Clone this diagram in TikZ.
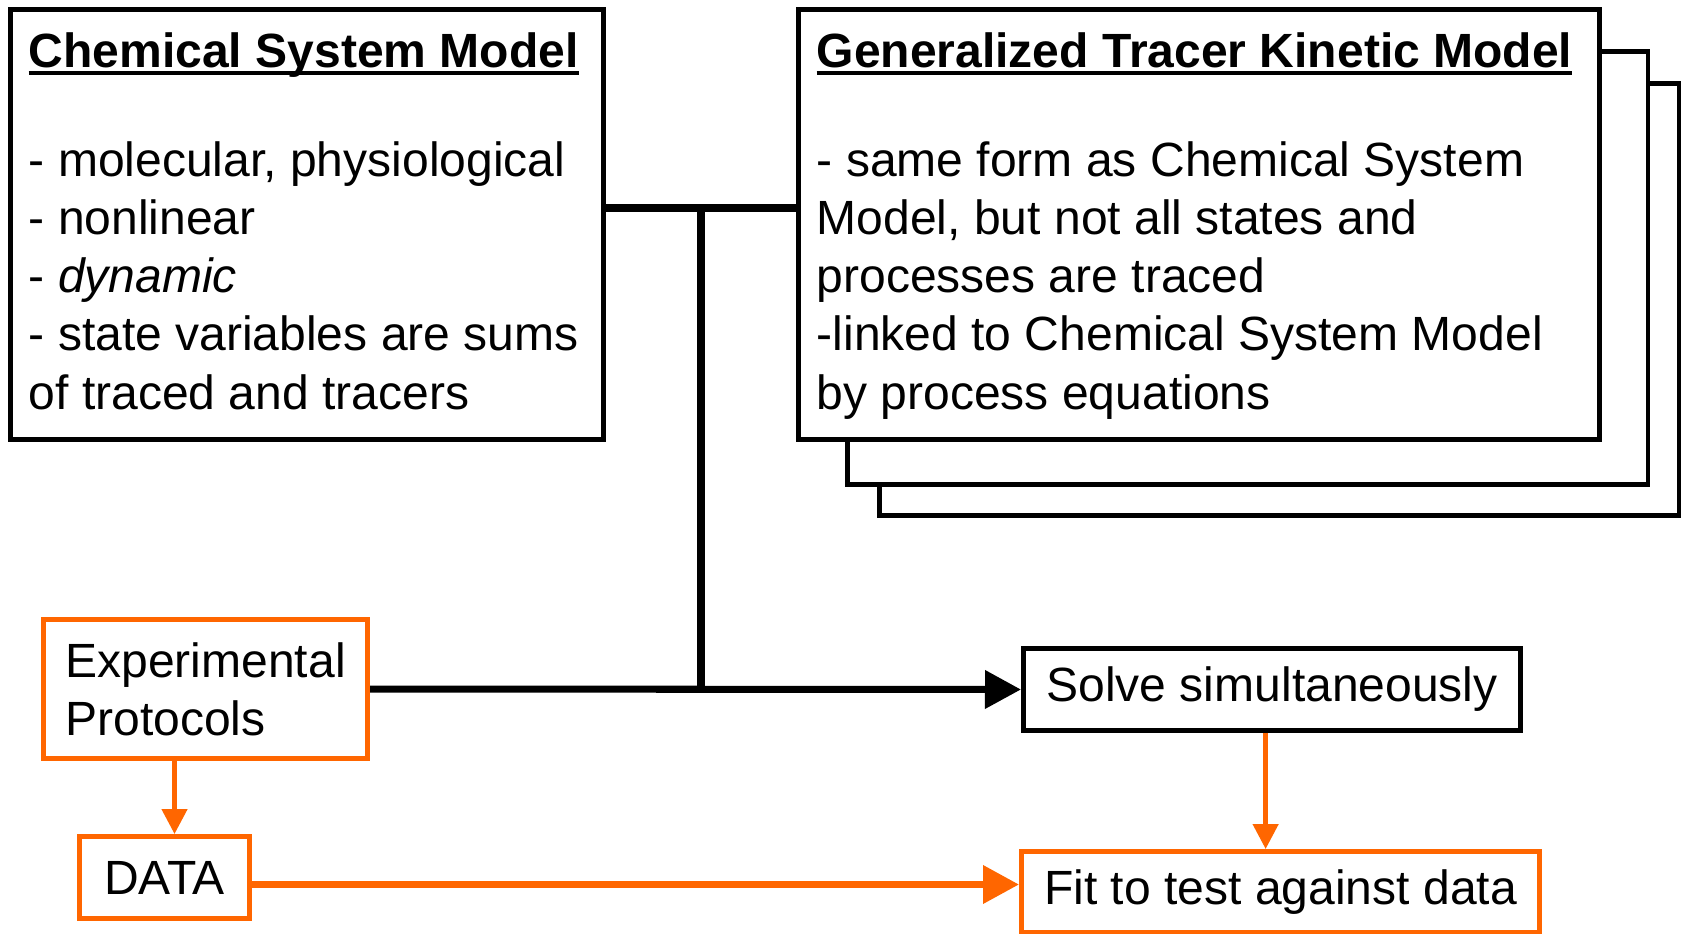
\documentclass[tikz,border=0pt]{standalone}
\usepackage{fontspec}
\setmainfont{Liberation Sans}
\usetikzlibrary{arrows.meta}

\definecolor{protorange}{RGB}{255,102,0}

% bold heading with a heavy underline set just under the baseline
\newcommand{\uhead}[1]{\setbox0=\hbox{\bfseries #1}\rlap{\rule[-0.165em]{\wd0}{0.085em}}\box0}

\tikzset{
  box/.style={draw, line width=1.4pt, fill=white, inner sep=0pt, anchor=north west,
    font=\fontsize{13.66pt}{16.5pt}\selectfont},
  obox/.style={box, draw=protorange},
  txt/.style={inner sep=0pt, anchor=base west, font=\fontsize{13.66pt}{16.5pt}\selectfont},
  body/.style={txt, align=left},
  link/.style={line width=2pt},
  feed/.style={draw=protorange, line width=1.3pt, -{Triangle[length=0.25cm,width=0.25cm]}},
  bigarrow/.style={-{Triangle[length=0.36cm,width=0.37cm]}}
}

\begin{document}
\begin{tikzpicture}[x=0.01cm, y=-0.01cm]
  \useasboundingbox (0,0) rectangle (1686,933);

  % model boxes, the tracer model as a stack of three
  \node[box, minimum width=7.99cm, minimum height=4.32cm] (stackb) at (877,81) {};
  \node[box, minimum width=8.00cm, minimum height=4.33cm] (stacka) at (845,49) {};
  \node[box, minimum width=8.01cm, minimum height=4.30cm] (gtkm) at (796,7) {};
  \node[box, minimum width=5.93cm, minimum height=4.30cm] (chem) at (8,7) {};

  % headings sit on the first baseline, the lists hang from their last one
  \node[txt] (chemhead) at ([shift={(20,60)}]chem.north west) {\uhead{Chemical System Model}};
  \node[body] (chembody) at ([shift={(20,402)}]chem.north west) {%
    - molecular, physiological\\
    - nonlinear\\
    - \textit{dynamic}\\
    - state variables are sums\\
    of traced and tracers};

  \node[txt] (gtkmhead) at ([shift={(20,60)}]gtkm.north west) {\uhead{Generalized Tracer Kinetic Model}};
  \node[body] (gtkmbody) at ([shift={(20,402)}]gtkm.north west) {%
    - same form as Chemical System\\
    Model, but not all states and\\
    processes are traced\\
    -linked to Chemical System Model\\
    by process equations};

  % protocol, data and solver boxes
  \node[obox, minimum width=3.24cm, minimum height=1.39cm, align=left] (exp) at (41,617) {Experimental\\Protocols};
  \node[obox, minimum width=1.70cm, minimum height=0.82cm] (data) at (77,834) {DATA};
  \node[box, minimum width=4.97cm, minimum height=0.82cm] (solve) at (1021,646) {Solve simultaneously};
  \node[obox, minimum width=5.18cm, minimum height=0.81cm] (fit) at (1019,849) {Fit to test against data};

  % connectors
  \coordinate (join) at (701,208);
  \coordinate (dtop) at ([xshift=0.1cm]data.north);
  \coordinate (ftop) at ([xshift=-0.15cm]fit.north);
  \coordinate (fend) at ([yshift=0.075cm]fit.west);

  \draw[link] (chem.east |- join) -- (gtkm.west |- join);
  \draw[link] (join) -- (join |- exp.east);
  \draw[link, bigarrow] (exp.east) -- (solve.west);
  \draw[feed] (exp.south -| dtop) -- (dtop);
  \draw[feed] (solve.south -| ftop) -- (ftop);
  \draw[link, draw=protorange, fill=protorange, bigarrow] (data.east |- fend) -- (fend);
\end{tikzpicture}
\end{document}
